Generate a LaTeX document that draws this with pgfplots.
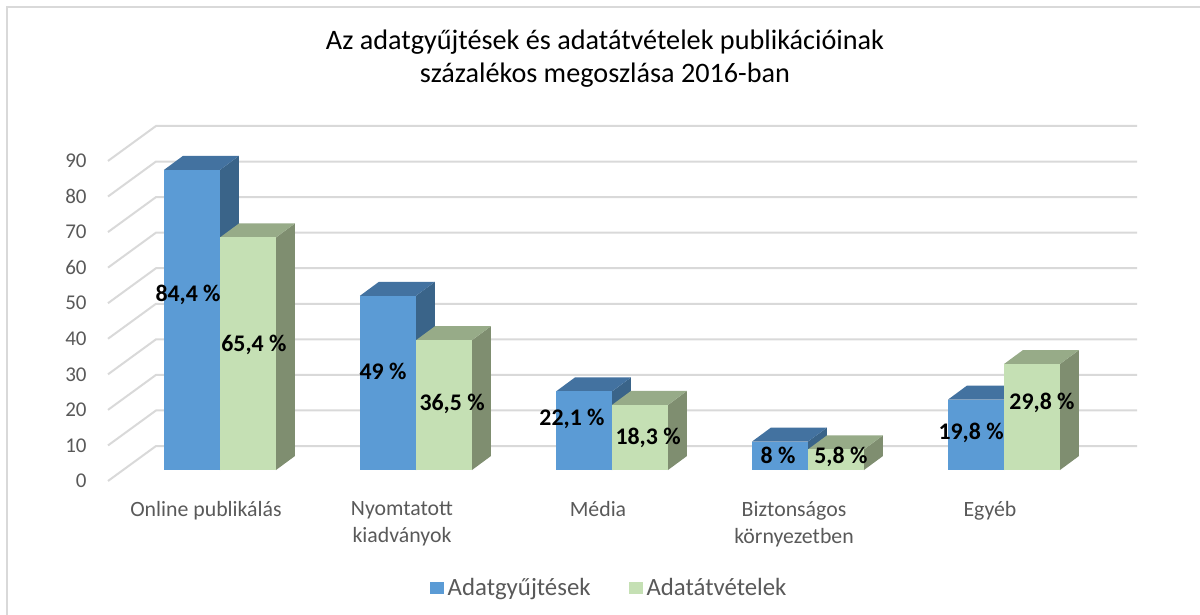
\documentclass[border=0pt]{standalone}
\usepackage{fontspec}
\setmainfont{Carlito}
\usepackage{pgfplots}
\usepackage{pgfplotstable}
\pgfplotsset{compat=1.18}
\definecolor{barblue}{HTML}{5B9BD5}
\definecolor{bluetop}{HTML}{4372A0}
\definecolor{blueside}{HTML}{3A6489}
\definecolor{bargreen}{HTML}{C5E0B4}
\definecolor{greentop}{HTML}{97AB88}
\definecolor{greenside}{HTML}{7F8E70}
\definecolor{gridc}{HTML}{D9D9D9}
\definecolor{txt}{HTML}{595959}

\pgfplotstableread{
i a b
0 84.4 65.4
1 49 36.5
2 22.1 18.3
3 8 5.8
4 19.8 29.8
}\datatable

\begin{document}
\begin{tikzpicture}
\begin{axis}[
  at={(54pt,67pt)}, anchor=south west,
  x=98pt, y=1.778pt,
  xmin=-0.5714, xmax=4.679, ymin=-3.09, ymax=96.75,
  axis line style={draw=none}, tick style={draw=none}, major tick length=0pt,
  clip=false,
  ytick={0,10,...,90},
  yticklabels={0,10,20,30,40,50,60,70,80,90},
  yticklabel style={anchor=east, inner sep=0pt, xshift=-10.5pt, yshift=-5.49pt, font=\fontsize{10.5}{12}\selectfont, text=txt},
  xtick={-0.0714,0.9286,1.9286,2.9286,3.9286},
  xticklabels={Online publikálás, {Nyomtatott\\kiadványok}, Média, {Biztonságos\\környezetben}, Egyéb},
  xticklabel style={anchor=north, align=center, inner sep=0pt, yshift=-10pt, font=\fontsize{10.9}{13.5}\selectfont, text=txt},
  legend style={at={(0.4879,-0.3014)}, anchor=center, draw=none, fill=none, legend columns=2,
    font=\fontsize{12.4}{14}\selectfont, text=txt, inner sep=0pt,
    /tikz/every even column/.append style={column sep=17pt}},
  legend cell align=left,
  legend image code/.code={\path[fill] (0pt,-3pt) rectangle (7pt,3pt);},
]
% wall grid
\pgfplotsinvokeforeach{0,10,...,90}{%
  \draw[gridc, line width=1pt] (axis cs:-0.5714,#1-3.09) -- (axis cs:-0.3265,#1+6.75) -- (axis cs:4.679,#1+6.75);
}
% bars
\pgfplotsinvokeforeach{0,...,4}{%
  \pgfplotstablegetelem{#1}{a}\of\datatable \pgfmathsetmacro\va{\pgfplotsretval}%
  \pgfplotstablegetelem{#1}{b}\of\datatable \pgfmathsetmacro\vb{\pgfplotsretval}%
  \pgfmathsetmacro\xL{#1-0.2857}%
  \pgfmathsetmacro\xM{#1}%
  \pgfmathsetmacro\xR{#1+0.2857}%
  \pgfmathsetmacro\xLd{\xL+0.0969}%
  \pgfmathsetmacro\xMd{\xM+0.0969}%
  \pgfmathsetmacro\xRd{\xR+0.0969}%
  \pgfmathsetmacro\vat{\va+3.94}%
  \pgfmathsetmacro\vbt{\vb+3.94}%
  \edef\bars{%
    \noexpand\addplot[fill=blueside, draw=none, forget plot] coordinates {(\xM,0) (\xMd,3.94) (\xMd,\vat) (\xM,\va)};
    \noexpand\addplot[fill=bluetop, draw=none, forget plot] coordinates {(\xL,\va) (\xM,\va) (\xMd,\vat) (\xLd,\vat)};
    \noexpand\addplot[fill=barblue, draw=none, forget plot] coordinates {(\xL,0) (\xM,0) (\xM,\va) (\xL,\va)};
    \noexpand\addplot[fill=greenside, draw=none, forget plot] coordinates {(\xR,0) (\xRd,3.94) (\xRd,\vbt) (\xR,\vb)};
    \noexpand\addplot[fill=greentop, draw=none, forget plot] coordinates {(\xM,\vb) (\xR,\vb) (\xRd,\vbt) (\xMd,\vbt)};
    \noexpand\addplot[fill=bargreen, draw=none, forget plot] coordinates {(\xM,0) (\xR,0) (\xR,\vb) (\xM,\vb)};
  }\bars
}
% data labels
\addplot[only marks, mark=*, mark size=0pt, mark options={draw=none, fill=none}, forget plot,
  nodes near coords, point meta=explicit symbolic,
  every node near coord/.append style={anchor=center, inner sep=0pt, text=black, font=\bfseries\fontsize{11.9}{14}\selectfont}]
  coordinates {
  (-0.163,49.2) [84,4 \%]
  (0.173,35.2) [65,4 \%]
  (0.832,27.6) [49 \%]
  (1.184,18.6) [36,5 \%]
  (1.796,14.3) [22,1 \%]
  (2.184,9.0) [18,3 \%]
  (2.847,4.2) [8 \%]
  (3.168,3.7) [5,8 \%]
  (3.832,10.4) [19,8 \%]
  (4.194,18.8) [29,8 \%]
  };
\addlegendimage{fill=barblue, draw=none}
\addlegendentry{Adatgyűjtések}
\addlegendimage{fill=bargreen, draw=none}
\addlegendentry{Adatátvételek}
\end{axis}
\node[font=\fontsize{14.1}{16.5}\selectfont, text=black] at (302.5pt,286.5pt) {Az adatgyűjtések és adatátvételek publikációinak};
\node[font=\fontsize{14.1}{16.5}\selectfont, text=black] at (302.5pt,270pt) {százalékos megoszlása 2016-ban};
\draw[gridc, line width=1pt] (3.5pt,0pt) -- (3.5pt,304pt) -- (600pt,304pt);
\pgfresetboundingbox
\useasboundingbox (0pt,0pt) rectangle (600pt,307.5pt);
\end{tikzpicture}
\end{document}
